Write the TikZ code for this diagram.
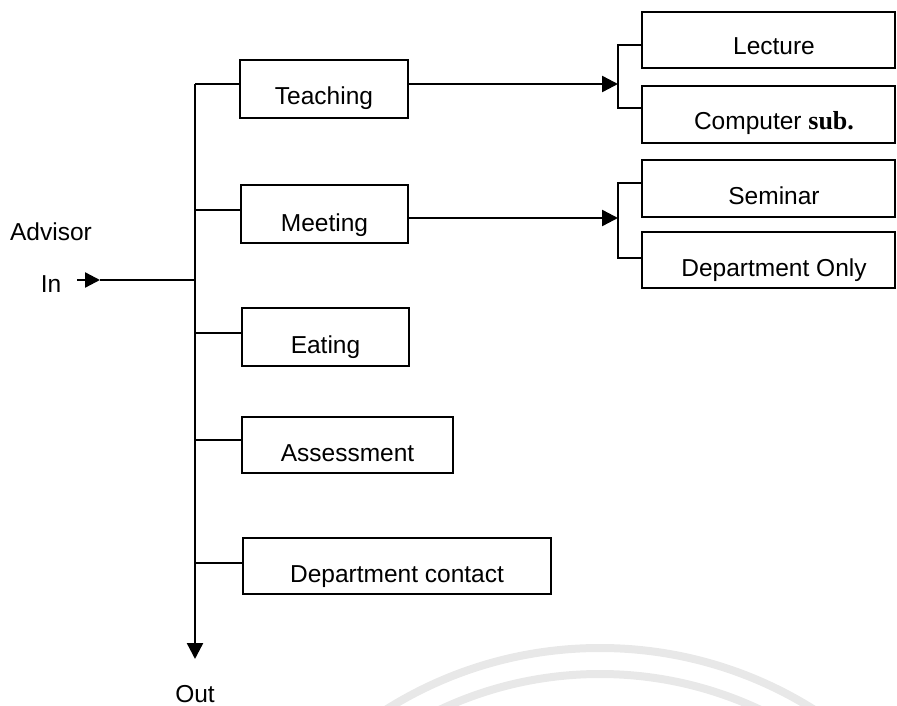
\documentclass[tikz,border=0pt]{standalone}
\usepackage{fontspec}
\setmainfont{Liberation Sans}
\newfontfamily\serifpart{Liberation Serif}
\usetikzlibrary{arrows.meta}
\begin{document}
\begin{tikzpicture}[x=1bp,y=-1bp,
  box/.style={draw, line width=2.2bp, rectangle, inner sep=0pt},
  lbl/.style={anchor=base, inner sep=0pt, font=\fontsize{24.5bp}{28bp}\selectfont},
  wire/.style={line width=2.4bp},
  tip/.style={-{Triangle[length=16bp,width=16bp]}},
  wm/.style={line width=8bp, color=black!9}]
\useasboundingbox (0,0) rectangle (897,706);
% watermark arcs
\coordinate (wmc) at (600,1050);
\draw[wm] (wmc) circle[radius=402bp];
\draw[wm] (wmc) circle[radius=376bp];
% boxes
\node[box, minimum width=168bp, minimum height=58bp] (teach) at (324,89) {};
\node[box, minimum width=167bp, minimum height=58bp] (meet) at (324.5,214) {};
\node[box, minimum width=167bp, minimum height=58bp] (eat) at (325.5,337) {};
\node[box, minimum width=211bp, minimum height=56bp] (assess) at (347.5,445) {};
\node[box, minimum width=308bp, minimum height=56bp] (dcont) at (397,566) {};
\node[box, minimum width=253bp, minimum height=56bp] (lec) at (768.5,40) {};
\node[box, minimum width=253bp, minimum height=57bp] (comp) at (768.5,114.5) {};
\node[box, minimum width=253bp, minimum height=57bp] (sem) at (768.5,188.5) {};
\node[box, minimum width=253bp, minimum height=56bp] (donly) at (768.5,260) {};
% labels
\node[lbl] (tTeach) at (324,105) {Teaching};
\node[lbl] (tMeet) at (324.5,231) {Meeting};
\node[lbl] (tEat) at (325.5,353) {Eating};
\node[lbl] (tAssess) at (347.5,461) {Assessment};
\node[lbl] (tDcont) at (397,582) {Department contact};
\node[lbl] (tLec) at (774,55) {Lecture};
\node[lbl] (tComp) at (774,130) {Computer {\serifpart\bfseries\fontsize{26bp}{28bp}\selectfont sub.}};
\node[lbl] (tSem) at (774,204) {Seminar};
\node[lbl] (tDonly) at (774,276) {Department Only};
\node[lbl] (tAdv) at (51,240) {Advisor};
\node[lbl] (tIn) at (51,292) {In};
\node[lbl] (tOut) at (195,702) {Out};
% trunk
\coordinate (ttop) at (195,84);
\coordinate (tbot) at (195,659);
\draw[wire,tip] (ttop) -- (tbot);
% input
\coordinate (inA) at (77,280);
\coordinate (inB) at (100,280);
\coordinate (inC) at (195,280);
\draw[wire,-{Triangle[length=15bp,width=15bp]}] (inA) -- (inB);
\draw[wire] (inB) -- (inC);
% branches
\coordinate (b2) at (195,210);
\coordinate (b3) at (195,333);
\coordinate (b4) at (195,440);
\coordinate (b5) at (195,563);
\draw[wire] (ttop) -- (ttop -| teach.west);
\draw[wire] (b2) -- (b2 -| meet.west);
\draw[wire] (b3) -- (b3 -| eat.west);
\draw[wire] (b4) -- (b4 -| assess.west);
\draw[wire] (b5) -- (b5 -| dcont.west);
% right side arrows
\coordinate (br1) at (618,84);
\coordinate (br2) at (618,218);
\draw[wire,tip] (br1 -| teach.east) -- (br1);
\draw[wire,tip] (br2 -| meet.east) -- (br2);
% brackets
\coordinate (bk1a) at (618,45);
\coordinate (bk1b) at (618,108);
\coordinate (bk2a) at (618,183);
\coordinate (bk2b) at (618,258);
\draw[wire] (bk1a -| lec.west) -- (bk1a) -- (bk1b) -- (bk1b -| comp.west);
\draw[wire] (bk2a -| sem.west) -- (bk2a) -- (bk2b) -- (bk2b -| donly.west);
\end{tikzpicture}
\end{document}
